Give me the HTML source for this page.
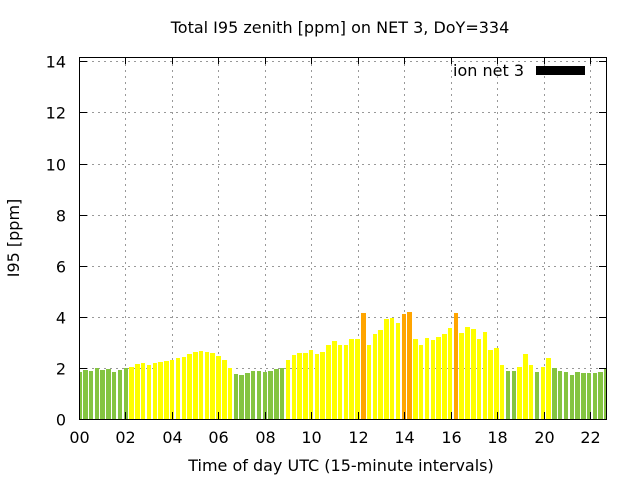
<!DOCTYPE html>
<html><head><meta charset="utf-8"><style>body{margin:0;background:#fff}svg{display:block}text{font-family:"DejaVu Sans","Liberation Sans",sans-serif;fill:#000}</style></head>
<body>
<svg id="s" width="640" height="480" xmlns="http://www.w3.org/2000/svg">
<g id="grid" stroke="#999" stroke-width="1" stroke-dasharray="2,4"></g>
<g id="bars"></g>
<rect x="79.5" y="57.5" width="527" height="362" fill="none" stroke="#000" stroke-width="1"/>
<g id="ticks" stroke="#000" stroke-width="1"></g>
<g id="labels" font-size="16"></g>
<text x="340" y="33" font-size="16" text-anchor="middle">Total I95 zenith [ppm] on NET 3, DoY=334</text>
<text x="341" y="471" font-size="16" text-anchor="middle">Time of day UTC (15-minute intervals)</text>
<text x="0" y="0" font-size="16" text-anchor="middle" transform="translate(19,238) rotate(-90)">I95 [ppm]</text>
<text x="524" y="76" font-size="16" text-anchor="end">ion net 3</text>
<rect x="536" y="66" width="49" height="9" fill="#000"/>
</svg>
<script>
var G="#84c441",Y="#ffff00",O="#ffa500";
var b=[[79,82,372,G],[83,88,370,G],[89,93,371,G],[95,99,368,G],[100,105,370,G],[106,111,369,G],[112,116,372,G],[118,122,370,G],[124,128,368,G],
[129,134,367,Y],[135,140,364,Y],[141,145,363,Y],[147,151,365,Y],[153,157,363,Y],[158,163,362,Y],[164,169,361,Y],[170,174,360,Y],[176,180,358,Y],[182,186,357,Y],[187,192,354,Y],[193,198,352,Y],[199,203,351,Y],[205,209,352,Y],[210,215,353,Y],[216,221,356,Y],[222,227,360,Y],[228,232,368,Y],
[234,238,374,G],[239,244,375,G],[245,250,373,G],[251,255,371,G],[257,261,371,G],[263,267,372,G],[268,273,371,G],[274,279,369,G],[280,284,368,G],
[286,290,360,Y],[292,296,355,Y],[297,302,353,Y],[303,308,353,Y],[309,313,350,Y],[315,319,354,Y],[320,325,352,Y],[326,331,345,Y],[332,337,341,Y],[338,342,345,Y],[344,348,345,Y],[349,354,339,Y],[355,360,339,Y],
[361,366,313,O],[367,371,345,Y],[373,377,334,Y],[378,383,330,Y],[384,389,319,Y],[390,394,318,Y],[396,400,323,Y],[402,406,314,O],[407,412,312,O],
[413,418,339,Y],[419,423,345,Y],[425,429,338,Y],[431,435,340,Y],[436,441,337,Y],[442,447,334,Y],[448,452,328,Y],[454,458,313,O],[459,464,333,Y],[465,470,327,Y],[471,476,329,Y],[477,481,339,Y],[483,487,332,Y],[488,493,350,Y],[494,499,348,Y],[500,504,365,Y],
[506,510,371,G],[512,516,371,G],[517,522,367,Y],[523,528,354,Y],[529,533,365,Y],[535,539,372,G],[541,545,367,Y],[546,551,358,Y],
[552,557,368,G],[558,562,371,G],[564,568,372,G],[570,574,375,G],[575,580,372,G],[581,586,373,G],[587,591,373,G],[593,597,373,G],[598,603,372,G],[604,606,369,G]];
var ns="http://www.w3.org/2000/svg";
function el(p,t,a,tx){var e=document.createElementNS(ns,t);for(var k in a)e.setAttribute(k,a[k]);if(tx)e.textContent=tx;document.getElementById(p).appendChild(e);}
b.forEach(function(r){el("bars","rect",{x:r[0],y:r[2],width:r[1]-r[0],height:419-r[2],fill:r[3]});});
for(var i=0;i<=7;i++){var v=i*2,y=Math.round(419-v*25.55)+0.5;
 if(i>0)el("grid","line",{x1:80,x2:606,y1:y,y2:y});
 el("ticks","line",{x1:79.5,x2:87,y1:y,y2:y});el("ticks","line",{x1:599,x2:606,y1:y,y2:y});
 el("labels","text",{x:66,y:y+6,"text-anchor":"end"},String(v));}
for(var j=0;j<=11;j++){var x=Math.round(79+j*46.45)+0.5;
 if(j>0)el("grid","line",{x1:x,x2:x,y1:58,y2:419});
 el("ticks","line",{x1:x,x2:x,y1:419,y2:412});el("ticks","line",{x1:x,x2:x,y1:57,y2:64});
 var s=(j*2<10?"0":"")+(j*2);el("labels","text",{x:x,y:443,"text-anchor":"middle"},s);}
</script>
</body></html>
